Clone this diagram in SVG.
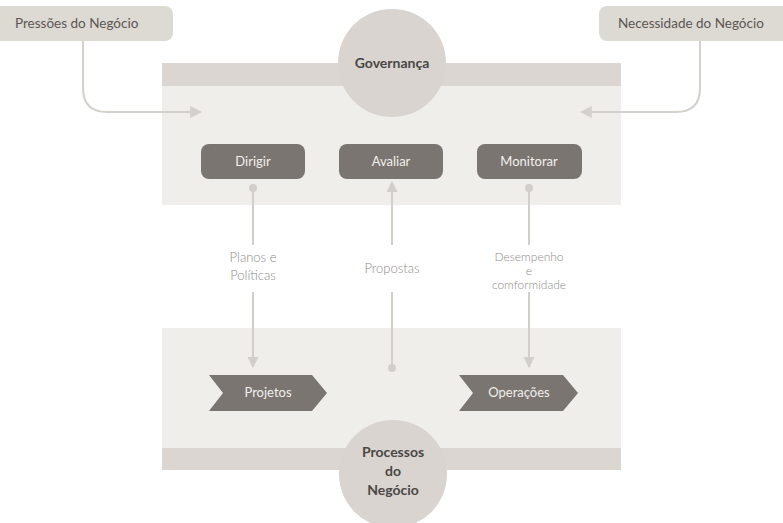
<svg xmlns="http://www.w3.org/2000/svg" width="783" height="523" viewBox="0 0 783 523">
<defs>
<style>
.band{fill:#dbd6d1}
.panel{fill:#efeeea}
.circ{fill:#d9d4cf}
.box{fill:#ddd9d3}
.btn{fill:#7a7571}
.btxt{font-family:Lato,"Open Sans",sans-serif;font-size:13px;fill:#f2f0ec;text-anchor:middle}
.big{font-family:Lato,"Open Sans",sans-serif;font-size:14px;font-weight:bold;fill:#4a4744;text-anchor:middle}
.ext{font-family:Lato,"Open Sans",sans-serif;font-size:13.5px;fill:#5a5754}
.lbl{font-family:Lato,"Open Sans",sans-serif;font-size:13px;font-weight:300;fill:#8e8b87;text-anchor:middle}
.lbls{font-size:12px}
.conn{stroke:#d4d1cd;stroke-width:2;fill:none}
.vline{stroke:#d2cfcb;stroke-width:2;fill:none}
</style>
<marker id="ah" viewBox="0 0 10 10" refX="9" refY="5" markerWidth="6" markerHeight="6" orient="auto" markerUnits="strokeWidth">
<path d="M0,0 L10,5 L0,10 z" fill="#d4d1cd"/>
</marker>
<marker id="av" viewBox="0 0 10 10" refX="9" refY="5" markerWidth="5.5" markerHeight="5.5" orient="auto" markerUnits="strokeWidth">
<path d="M0,0 L10,5 L0,10 z" fill="#d2cfcb"/>
</marker>
</defs>
<rect width="783" height="523" fill="#ffffff"/>

<g id="governanca-panel">
<rect class="panel" x="162" y="63" width="459" height="142"/>
<rect class="band" x="162" y="63" width="459" height="23"/>
</g>
<g id="processos-panel">
<rect class="panel" x="162" y="328" width="459" height="142"/>
<rect class="band" x="162" y="448" width="459" height="22"/>
</g>

<g id="connectors">
<path class="conn" d="M83,40 V88 Q83,112 107,112 H201" marker-end="url(#ah)"/>
<path class="conn" d="M700,40 V88 Q700,112 676,112 H581" marker-end="url(#ah)"/>
<circle cx="253" cy="188" r="4" fill="#d2cfcb"/>
<path class="vline" d="M253,188 V245 M253,292 V367" marker-end="url(#av)"/>
<circle cx="392" cy="368" r="4" fill="#d2cfcb"/>
<path class="vline" d="M392,368 V292 M392,245 V182" marker-end="url(#av)"/>
<circle cx="529" cy="188" r="4" fill="#d2cfcb"/>
<path class="vline" d="M529,188 V245 M529,292 V367" marker-end="url(#av)"/>
</g>

<g id="label-planos">
<text class="lbl" x="253" y="262">Planos e</text>
<text class="lbl" x="253" y="280">Políticas</text>
</g>
<g id="label-propostas">
<text class="lbl" x="392" y="273">Propostas</text>
</g>
<g id="label-desempenho">
<text class="lbl lbls" x="529" y="261">Desempenho</text>
<text class="lbl lbls" x="529" y="275">e</text>
<text class="lbl lbls" x="529" y="289">comformidade</text>
</g>

<g id="pressoes">
<rect class="box" x="-10" y="6" width="183" height="35" rx="8"/>
<text class="ext" x="15" y="28">Pressões do Negócio</text>
</g>
<g id="necessidade">
<rect class="box" x="599" y="6" width="200" height="35" rx="8"/>
<text class="ext" x="618" y="28">Necessidade do Negócio</text>
</g>

<g id="governanca">
<circle class="circ" cx="392" cy="63" r="54"/>
<text class="big" x="392" y="68">Governança</text>
</g>
<g id="processos">
<circle class="circ" cx="393" cy="474" r="54"/>
<text class="big" x="393" y="457">Processos</text>
<text class="big" x="393" y="476">do</text>
<text class="big" x="393" y="495">Negócio</text>
</g>

<g id="dirigir">
<rect class="btn" x="201" y="144" width="104" height="35" rx="8"/>
<text class="btxt" x="253" y="166">Dirigir</text>
</g>
<g id="avaliar">
<rect class="btn" x="339" y="144" width="104" height="35" rx="8"/>
<text class="btxt" x="391" y="166">Avaliar</text>
</g>
<g id="monitorar">
<rect class="btn" x="477" y="144" width="105" height="35" rx="8"/>
<text class="btxt" x="529" y="166">Monitorar</text>
</g>

<g id="projetos">
<polygon class="btn" points="209,375 312,375 327,393 312,411 209,411 223,393"/>
<text class="btxt" x="268" y="397">Projetos</text>
</g>
<g id="operacoes">
<polygon class="btn" points="459,375 563,375 578,393 563,411 459,411 473,393"/>
<text class="btxt" x="519" y="397">Operações</text>
</g>
</svg>
